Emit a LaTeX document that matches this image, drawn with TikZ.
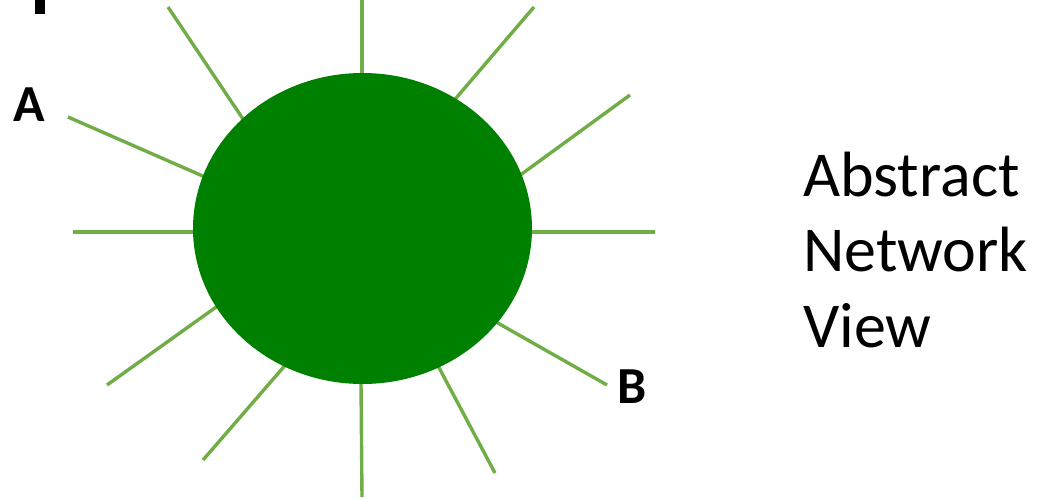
\documentclass[tikz,border=0pt]{standalone}
\usepackage{fontspec}
\setmainfont{Carlito}
\usetikzlibrary{shapes.geometric}
\definecolor{spoke}{HTML}{70AD47}
\definecolor{cloud}{HTML}{008000}
\tikzset{
  spokeline/.style={draw=spoke, line width=3.4pt},
  endlabel/.style={font=\bfseries\fontsize{52}{52}\selectfont, inner sep=0pt, anchor=base west},
  viewtext/.style={font=\fontsize{64}{75}\selectfont, inner sep=0pt, anchor=base west}
}
\begin{document}
\begin{tikzpicture}[x=1pt,y=-1pt]
\useasboundingbox (0,0) rectangle (1037,499);
% spokes
\foreach \i/\ax/\ay/\bx/\by in {
  1/362/0/362/74, 2/168/7/243/119, 3/534/7/451/104, 4/630/95/519/176,
  5/68/117/205/177, 6/73/232/198/232, 7/532/232/655/232, 8/107/385/219/305,
  9/203/460/288/362, 10/361/383/362/497, 11/436/362/495/473, 12/496/322/607/385}{
  \coordinate (o\i) at (\ax,\ay);
  \coordinate (i\i) at (\bx,\by);
  \draw[spokeline] (o\i) -- (i\i);
}
\node[ellipse, fill=cloud, minimum width=339pt, minimum height=311pt, inner sep=0pt] (net) at (362.5,228.5) {};
\node[endlabel] (A) at (13,121) {A};
\node[endlabel] (B) at (617,403) {B};
\node[fill=black, minimum width=10pt, minimum height=14pt, inner sep=0pt, anchor=north west] (mark) at (35,0) {};
\node[viewtext] (t1) at (803,196) {Abstract};
\node[viewtext] (t2) at (803,271) {Network};
\node[viewtext] (t3) at (803,347) {View};
\end{tikzpicture}
\end{document}
